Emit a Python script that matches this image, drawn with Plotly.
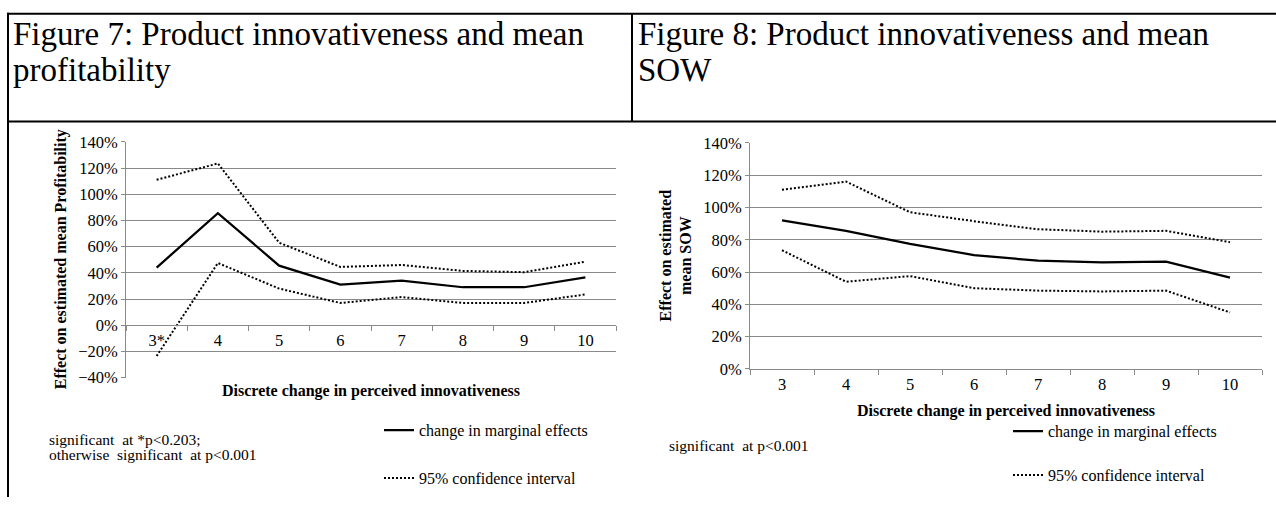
import plotly.graph_objects as go

# ---------------- data ----------------
categories_fig7 = ["3*", "4", "5", "6", "7", "8", "9", "10"]
categories_fig8 = ["3", "4", "5", "6", "7", "8", "9", "10"]

profit_marginal = [0.44, 0.855, 0.455, 0.31, 0.34, 0.29, 0.29, 0.365]
profit_ci_upper = [1.11, 1.235, 0.63, 0.445, 0.46, 0.415, 0.405, 0.485]
profit_ci_lower = [-0.235, 0.475, 0.28, 0.17, 0.215, 0.17, 0.17, 0.235]

sow_marginal = [0.92, 0.855, 0.775, 0.705, 0.67, 0.66, 0.665, 0.565]
sow_ci_upper = [1.11, 1.16, 0.97, 0.915, 0.865, 0.85, 0.855, 0.785]
sow_ci_lower = [0.735, 0.54, 0.575, 0.50, 0.485, 0.48, 0.485, 0.35]

y_range_fig7 = [-0.4, 1.4]
y_range_fig8 = [0.0, 1.4]

# ---------------- layout helpers ----------------
W, H = 1276, 507
def px(x):
    return x / W
def py(y):
    return 1 - y / H

FONT = "Liberation Serif, Times New Roman, serif"
GRID = "#8a8a8a"
BLACK = "#000000"

fig = go.Figure()

# Figure 7 traces
fig.add_trace(go.Scatter(x=categories_fig7, y=profit_marginal, mode="lines",
                         line=dict(color=BLACK, width=2.25),
                         name="change in marginal effects", legendgroup="m",
                         legend="legend", xaxis="x", yaxis="y"))
fig.add_trace(go.Scatter(x=categories_fig7, y=profit_ci_upper, mode="lines",
                         line=dict(color=BLACK, width=2, dash="2px,2px"),
                         name="95% confidence interval", legendgroup="ci",
                         legend="legend", xaxis="x", yaxis="y"))
fig.add_trace(go.Scatter(x=categories_fig7, y=profit_ci_lower, mode="lines",
                         line=dict(color=BLACK, width=2, dash="2px,2px"),
                         name="95% confidence interval", legendgroup="ci",
                         showlegend=False, legend="legend", xaxis="x", yaxis="y"))

# Figure 8 traces
fig.add_trace(go.Scatter(x=categories_fig8, y=sow_marginal, mode="lines",
                         line=dict(color=BLACK, width=2.25),
                         name="change in marginal effects", legendgroup="m2",
                         legend="legend2", xaxis="x2", yaxis="y2"))
fig.add_trace(go.Scatter(x=categories_fig8, y=sow_ci_upper, mode="lines",
                         line=dict(color=BLACK, width=2, dash="2px,2px"),
                         name="95% confidence interval", legendgroup="ci2",
                         legend="legend2", xaxis="x2", yaxis="y2"))
fig.add_trace(go.Scatter(x=categories_fig8, y=sow_ci_lower, mode="lines",
                         line=dict(color=BLACK, width=2, dash="2px,2px"),
                         name="95% confidence interval", legendgroup="ci2",
                         showlegend=False, legend="legend2", xaxis="x2", yaxis="y2"))

# domains (pixels -> paper)
x1_dom = [px(126), px(616)]
y1_dom = [py(383), py(138)]
x2_dom = [px(750), px(1262)]
y2_dom = [py(374), py(139)]
zero_frac = y1_dom[0] + (0 - y_range_fig7[0]) / (y_range_fig7[1] - y_range_fig7[0]) * (y1_dom[1] - y1_dom[0])

tickfont = dict(family=FONT, size=16.5, color=BLACK)
cat_range1 = [-0.5, len(categories_fig7) - 0.5]
cat_range2 = [-0.5, len(categories_fig8) - 0.5]

fig.update_layout(
    width=W, height=H,
    margin=dict(l=0, r=0, t=0, b=0),
    paper_bgcolor="white", plot_bgcolor="white",
    font=dict(family=FONT, size=16, color=BLACK),
    xaxis=dict(domain=x1_dom, anchor="free", position=zero_frac, type="category",
               range=cat_range1,
               showline=True, linecolor=GRID, linewidth=1, showgrid=False,
               ticks="outside", tickson="boundaries", ticklen=5, tickcolor=GRID,
               tickfont=tickfont, zeroline=False, fixedrange=True),
    yaxis=dict(domain=y1_dom, anchor="x", range=y_range_fig7, dtick=0.2, tickformat=".0%",
               showline=True, linecolor=GRID, linewidth=1, showgrid=True, gridcolor=GRID,
               gridwidth=1, zeroline=False, ticks="outside", ticklen=4, tickcolor=GRID,
               tickfont=tickfont, fixedrange=True),
    xaxis2=dict(domain=x2_dom, anchor="y2", type="category", range=cat_range2,
                showline=True, linecolor=GRID, linewidth=1, showgrid=False,
                ticks="outside", tickson="boundaries", ticklen=5, tickcolor=GRID,
                tickfont=tickfont, zeroline=False, fixedrange=True),
    yaxis2=dict(domain=y2_dom, anchor="x2", range=y_range_fig8, dtick=0.2, tickformat=".0%",
                showline=True, linecolor=GRID, linewidth=1, showgrid=True, gridcolor=GRID,
                gridwidth=1, zeroline=False, ticks="outside", ticklen=4, tickcolor=GRID,
                tickfont=tickfont, fixedrange=True),
    legend=dict(x=px(379), y=py(420), xanchor="left", yanchor="top",
                bgcolor="rgba(0,0,0,0)", borderwidth=0, tracegroupgap=24,
                font=dict(family=FONT, size=16, color=BLACK), itemwidth=30,
                traceorder="grouped"),
    legend2=dict(x=px(1008), y=py(421), xanchor="left", yanchor="top",
                 bgcolor="rgba(0,0,0,0)", borderwidth=0, tracegroupgap=20,
                 font=dict(family=FONT, size=16, color=BLACK), itemwidth=30,
                 traceorder="grouped"),
    showlegend=True,
)

# table frame
line = dict(color=BLACK, width=2)
fig.add_shape(type="line", xref="paper", yref="paper", x0=px(7), x1=1, y0=py(5), y1=py(5), line=line)
fig.add_shape(type="line", xref="paper", yref="paper", x0=px(8), x1=px(8), y0=py(4), y1=0, line=line)
fig.add_shape(type="line", xref="paper", yref="paper", x0=px(632), x1=px(632), y0=py(5), y1=py(117), line=line)
fig.add_shape(type="line", xref="paper", yref="paper", x0=px(7), x1=1, y0=py(117), y1=py(117), line=line)

def note(text, x, y, size=16, bold=False, xanchor="left", angle=0):
    fig.add_annotation(text=text, x=px(x), y=py(y), xref="paper", yref="paper",
                       xanchor=xanchor, yanchor="middle", showarrow=False, textangle=angle,
                       font=dict(family=FONT, size=size, color=BLACK,
                                 weight="bold" if bold else "normal"))

# titles
note("Figure 7: Product innovativeness and mean", 11, 26, size=33)
note("profitability", 11, 63, size=33)
note("Figure 8: Product innovativeness and mean", 636, 26, size=33)
note("SOW", 636, 63, size=33)

# axis titles
note("Effect on estimated mean Profitability", 61, 260, bold=True, xanchor="center", angle=-90)
note("Effect on estimated<br>mean SOW", 676, 256, bold=True, xanchor="center", angle=-90)
note("Discrete change in perceived innovativeness", 371, 397, bold=True, xanchor="center")
note("Discrete change in perceived innovativeness", 1006, 418, bold=True, xanchor="center")

# footnotes
note("significant\u00a0 at *p&lt;0.203;", 47, 447, size=15.5)
note("otherwise\u00a0 significant\u00a0 at p&lt;0.001", 47, 463, size=15.5)
note("significant\u00a0 at p&lt;0.001", 667, 453, size=15.5)

fig.write_html("out.html", config={"displayModeBar": False},
               post_script="document.body.style.margin='0';")
